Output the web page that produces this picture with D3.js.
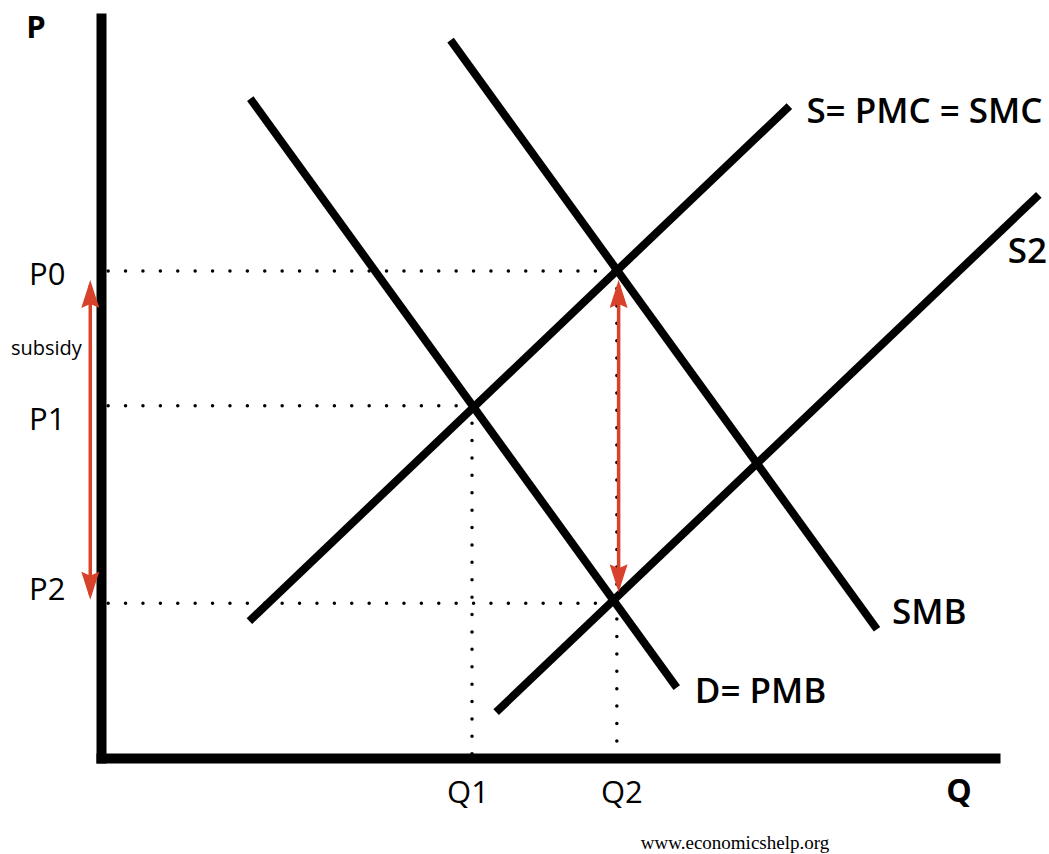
<!DOCTYPE html>
<html>
<head>
<meta charset="utf-8">
<script src="https://cdn.jsdelivr.net/npm/d3@7"></script>
<style>
  body { margin: 0; background: #fff; }
  text { font-family: 'Open Sans', sans-serif; fill: #000; }
</style>
</head>
<body>
<svg id="chart" width="1049" height="854"></svg>
<script>
// curves: [quantity, price] at each end, on a 0-100 scale
const curveNames = ['D= PMB', 'SMB', 'S= PMC = SMC', 'S2'];
const curveStart = [[16.7, 89.1], [39.1, 97.0], [16.6, 18.5], [44.2, 6.2]];
const curveEnd = [[64.4, 9.5], [86.8, 17.4], [77.0, 88.1], [104.9, 76.1]];

const priceLabels = ['P0', 'P1', 'P2'];
const priceLevels = [65.8, 47.6, 20.9];
const qtyLabels = ['Q1', 'Q2'];
const qtyLevels = [41.5, 57.7];

// dotted guides: [price index, quantity index it runs to]
const guides = [[0, 1], [1, 0], [2, 1]];

// subsidy arrows: quantity, top price, bottom price
const arrowQty = [-1.2, 57.9];
const arrowTop = [64.6, 64.6];
const arrowBottom = [21.4, 22.4];

const width = 1049,
  height = 854,
  red = '#d8412a';

const svg = d3.select('#chart');

const x = d3.scaleLinear().domain([0, 100]).range([101, 995]);
const y = d3.scaleLinear().domain([0, 100]).range([758, 18]);

svg
  .append('defs')
  .append('marker')
  .attr('id', 'head')
  .attr('viewBox', '0 0 28 18')
  .attr('markerUnits', 'userSpaceOnUse')
  .attr('markerWidth', 28)
  .attr('markerHeight', 18)
  .attr('refX', 23)
  .attr('refY', 9)
  .attr('orient', 'auto-start-reverse')
  .append('path')
  .attr('d', 'M0,0L28,9L0,18L4,9Z')
  .style('fill', red);

/* dotted guide lines */
const dots = svg.append('g').attr('class', 'guides');

guides.forEach(([pi, qi]) => {
  dots
    .append('line')
    .attr('x1', x(0.8))
    .attr('x2', x(qtyLevels[qi]))
    .attr('y1', y(priceLevels[pi]))
    .attr('y2', y(priceLevels[pi]));
});

dots
  .selectAll('.vguide')
  .data(qtyLevels)
  .enter()
  .append('line')
  .attr('class', 'vguide')
  .attr('x1', d => x(d))
  .attr('x2', d => x(d))
  .attr('y1', (d, i) => y(priceLevels[i === 0 ? 1 : 0]))
  .attr('y2', y(0));

dots
  .selectAll('line')
  .style('stroke', '#000')
  .style('stroke-width', 3.5)
  .style('stroke-linecap', 'round')
  .style('stroke-dasharray', '0,17.4');

/* axes */
const yAxis = d3.axisLeft(y).tickValues([]).tickSizeOuter(0);
const xAxis = d3.axisBottom(x).tickValues([]).tickSizeOuter(0);

svg.append('g').attr('transform', 'translate(' + x(0) + ',0)').call(yAxis);
svg.append('g').attr('transform', 'translate(0,' + y(0) + ')').call(xAxis);

svg
  .selectAll('.domain')
  .style('stroke', '#000')
  .style('stroke-width', 10)
  .style('stroke-linecap', 'square');

/* curves */
const line = d3
  .line()
  .x(d => x(d[0]))
  .y(d => y(d[1]));

svg
  .append('g')
  .selectAll('path')
  .data(curveNames.map((n, i) => [curveStart[i], curveEnd[i]]))
  .enter()
  .append('path')
  .attr('d', line)
  .style('fill', 'none')
  .style('stroke', '#000')
  .style('stroke-width', 8);

/* curve labels, placed off the curve's end */
const labelOffset = [[18, 15], [15, -5], [17, 17], [-31, 68]];

svg
  .append('g')
  .selectAll('text')
  .data(curveNames)
  .enter()
  .append('text')
  .attr('x', (d, i) => x(curveEnd[i][0]) + labelOffset[i][0])
  .attr('y', (d, i) => y(curveEnd[i][1]) + labelOffset[i][1])
  .style('font-size', '35px')
  .style('font-weight', 600)
  .text(d => d);

/* price and quantity labels */
const priceDy = [14, 24, -3];

svg
  .append('g')
  .selectAll('text')
  .data(priceLabels)
  .enter()
  .append('text')
  .attr('x', 29)
  .attr('y', (d, i) => y(priceLevels[i]) + priceDy[i])
  .style('font-size', '31px')
  .text(d => d);

const qtyDx = [-4, 5];

svg
  .append('g')
  .selectAll('text')
  .data(qtyLabels)
  .enter()
  .append('text')
  .attr('x', (d, i) => x(qtyLevels[i]) + qtyDx[i])
  .attr('y', y(0) + 45)
  .style('text-anchor', 'middle')
  .style('font-size', '31px')
  .text(d => d);

svg
  .append('text')
  .attr('x', 36)
  .attr('y', 38)
  .style('text-anchor', 'middle')
  .style('font-size', '31px')
  .style('font-weight', 700)
  .text('P');

svg
  .append('text')
  .attr('x', 959)
  .attr('y', y(0) + 44)
  .style('text-anchor', 'middle')
  .style('font-size', '32px')
  .style('font-weight', 700)
  .text('Q');

svg
  .append('text')
  .attr('x', 11)
  .attr('y', y(arrowTop[0]) + 75)
  .style('font-size', '20px')
  .text('subsidy');

svg
  .append('text')
  .attr('x', 735)
  .attr('y', 849)
  .style('text-anchor', 'middle')
  .style('font-family', "'Liberation Serif', serif")
  .style('font-size', '19px')
  .text('www.economicshelp.org');

/* subsidy arrows */
svg
  .append('g')
  .selectAll('line')
  .data(arrowQty)
  .enter()
  .append('line')
  .attr('x1', d => x(d))
  .attr('x2', d => x(d))
  .attr('y1', (d, i) => y(arrowTop[i]) + 5)
  .attr('y2', (d, i) => y(arrowBottom[i]) - 5)
  .attr('marker-start', 'url(#head)')
  .attr('marker-end', 'url(#head)')
  .style('stroke', red)
  .style('stroke-width', 3.5);
</script>
</body>
</html>
